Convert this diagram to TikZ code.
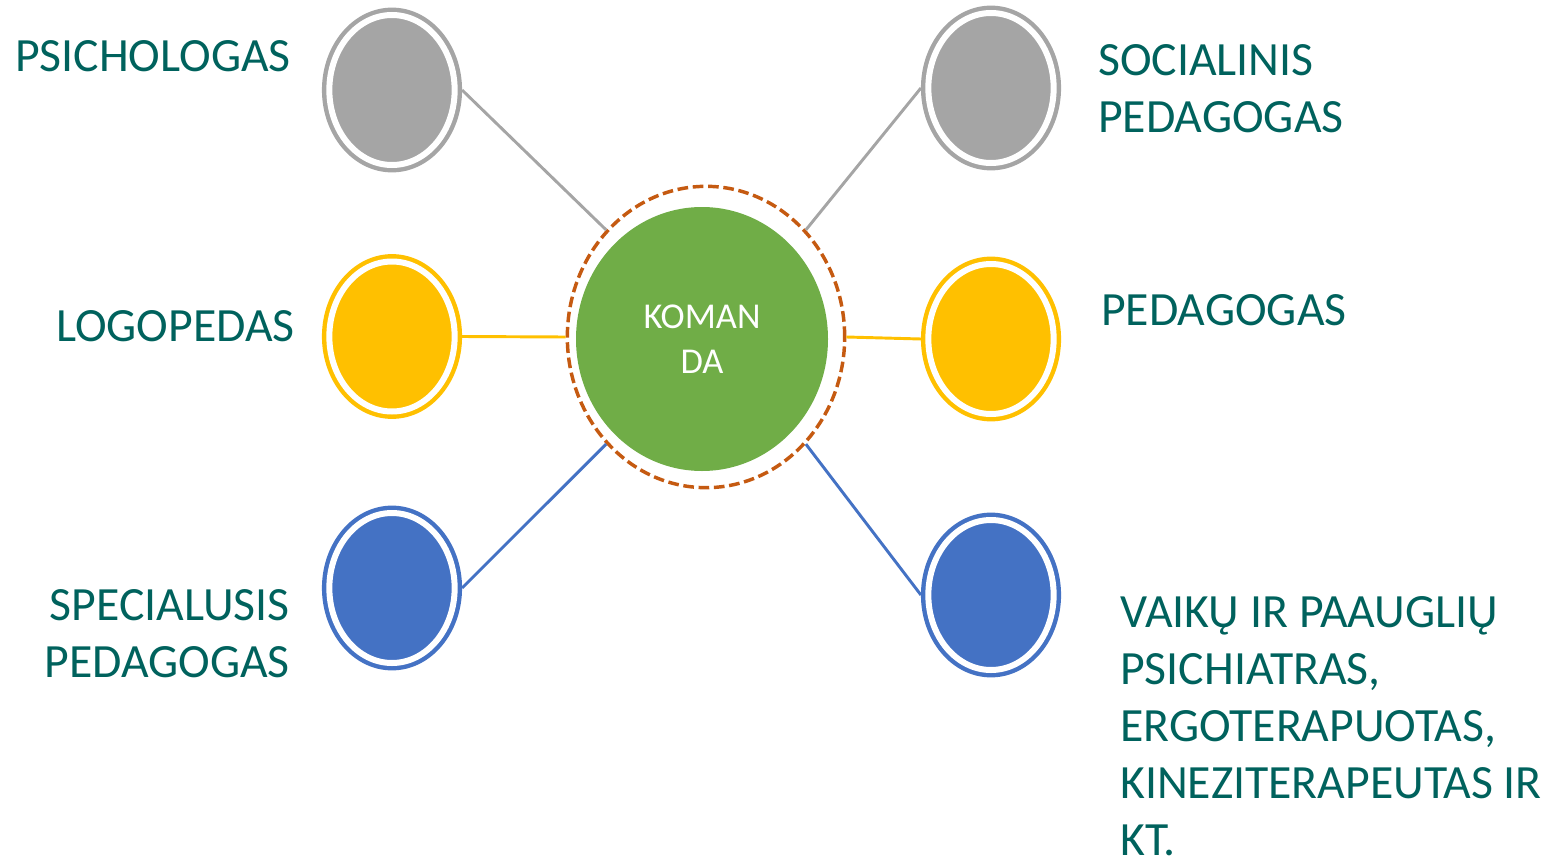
\documentclass[tikz,border=0pt]{standalone}
\usepackage{fontspec}
\setmainfont{Carlito}
\usetikzlibrary{shapes.geometric}
\definecolor{cgray}{HTML}{A5A5A5}
\definecolor{cyellow}{HTML}{FFC000}
\definecolor{cblue}{HTML}{4472C4}
\definecolor{cgreen}{HTML}{70AD47}
\definecolor{corange}{HTML}{C55A11}
\definecolor{cteal}{HTML}{00625D}
\tikzset{
  sat/.style={ellipse, draw=#1, fill=#1, line width=3.3pt, double=white, double distance=4.5pt,
    minimum width=94pt, minimum height=112.5pt, inner sep=0pt, outer sep=5.55pt},
  conn/.style={draw=#1, line width=2.2pt},
  lbl/.style={text=cteal, font=\fontsize{35.8}{42.75}\selectfont, inner sep=0pt},
}
\begin{document}
\begin{tikzpicture}[x=0.75pt,y=-0.75pt]
\useasboundingbox (0,0) rectangle (1550,860);
% centre
\node[ellipse, draw=corange, line width=2.6pt, dash pattern=on 8pt off 3.5pt,
  minimum width=208pt, minimum height=226pt, inner sep=0pt] (k) at (706,337) {};
\node[ellipse, fill=cgreen, minimum width=189pt, minimum height=198pt, inner sep=0pt,
  text=white, align=center, font=\fontsize{27.3}{34}\selectfont] (g) at (702,339) {KOMAN\\DA};
% satellites
\node[sat=cgray] (psy) at (392,90) {};
\node[sat=cyellow] (log) at (392,336.5) {};
\node[sat=cblue] (spe) at (392,588) {};
\node[sat=cgray] (soc) at (991,88) {};
\node[sat=cyellow] (ped) at (991,339) {};
\node[sat=cblue] (vai) at (991,595) {};
% connectors
\draw[conn=cgray] (psy.east) -- (k.133);
\draw[conn=cgray] (soc.west) -- (k.47);
\draw[conn=cyellow] (log.east) -- (k.west);
\draw[conn=cyellow] (ped.west) -- (k.east);
\draw[conn=cblue] (spe.east) -- (k.227);
\draw[conn=cblue] (vai.west) -- (k.313);
% labels
\node[lbl, anchor=north east] (tpsy) at (291,40) {PSICHOLOGAS};
\node[lbl, anchor=north east] (tlog) at (295,310.5) {LOGOPEDAS};
\node[lbl, anchor=north east, align=right] (tspe) at (290,589.5) {SPECIALUSIS\\PEDAGOGAS};
\node[lbl, anchor=north west, align=left] (tsoc) at (1098,44.5) {SOCIALINIS\\PEDAGOGAS};
\node[lbl, anchor=north west] (tped) at (1101,294.5) {PEDAGOGAS};
\node[lbl, anchor=north west, align=left] (tvai) at (1120,596) {VAIKŲ IR PAAUGLIŲ\\PSICHIATRAS,\\ERGOTERAPUOTAS,\\KINEZITERAPEUTAS IR\\KT.};
\end{tikzpicture}
\end{document}
